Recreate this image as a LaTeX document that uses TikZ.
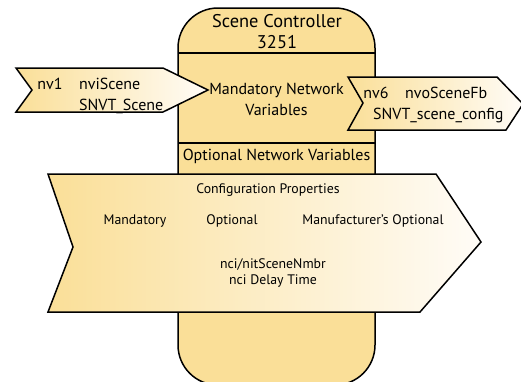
\documentclass[tikz,border=0pt]{standalone}
\usepackage{fontspec}
\setmainfont{PT Sans}
\definecolor{sceneyellow}{RGB}{250,223,152}
\definecolor{scenewhite}{RGB}{255,252,247}
\tikzset{
  outline/.style={draw=black, line width=1.5pt, line join=miter},
  titletext/.style={font=\fontsize{18.4}{20}\selectfont, inner sep=0pt},
  bigtext/.style={font=\fontsize{16}{18}\selectfont, inner sep=0pt},
  smalltext/.style={font=\fontsize{13.8}{16}\selectfont, inner sep=0pt},
}
\begin{document}
\begin{tikzpicture}[x=1pt, y=-1pt]
  \useasboundingbox (0,0) rectangle (521,381);
  % device body
  \draw[outline, fill=sceneyellow, rounded corners=40pt] (178,385) -- (178,8) -- (375,8) -- (375,385) -- cycle;
  \draw[outline] (178,53) -- (375,53);
  \draw[outline] (178,143) -- (375,143);
  \node[titletext] (title) at (277,21.5) {Scene Controller};
  \node[titletext] (number) at (277,42.5) {3251};
  \node[bigtext, align=center] (mandnv) at (276.5,99) {Mandatory Network\\[3pt]Variables};
  \node[bigtext] (optnv) at (276.5,156) {Optional Network Variables};
  % input variable
  \draw[outline, left color=sceneyellow, right color=scenewhite]
    (16,68) -- (163,68) -- (208,90) -- (163,112) -- (16,112) -- (32,90) -- cycle;
  \node[bigtext] (nvone) at (50,84) {nv1};
  \node[bigtext, anchor=west] (nviscene) at (79,84) {nviScene};
  \node[bigtext, anchor=west] (snvtscene) at (79,106) {SNVT\_Scene};
  % output variable
  \draw[outline, left color=sceneyellow, right color=scenewhite]
    (348,77) -- (497,77) -- (523,104) -- (506,130) -- (348,130) -- (363,103) -- cycle;
  \node[bigtext] (nvsix) at (376,93) {nv6};
  \node[bigtext, anchor=west] (nvoscene) at (405,93) {nvoSceneFb};
  \node[bigtext, anchor=west] (snvtconfig) at (373,115) {SNVT\_scene\_config};
  % configuration properties
  \draw[outline, left color=sceneyellow, right color=scenewhite]
    (48,174) -- (436,174) -- (481,242) -- (420,312) -- (48,312) -- (73,247) -- cycle;
  \node[smalltext] (cptitle) at (268,190) {Configuration Properties};
  \node[smalltext] (cpmand) at (135,221) {Mandatory};
  \node[smalltext] (cpopt) at (232,221) {Optional};
  \node[smalltext] (cpmanuf) at (373,221) {Manufacturer's Optional};
  \node[smalltext, align=center] (cplist) at (273,273) {nci/nitSceneNmbr\\nci Delay Time};
\end{tikzpicture}
\end{document}
